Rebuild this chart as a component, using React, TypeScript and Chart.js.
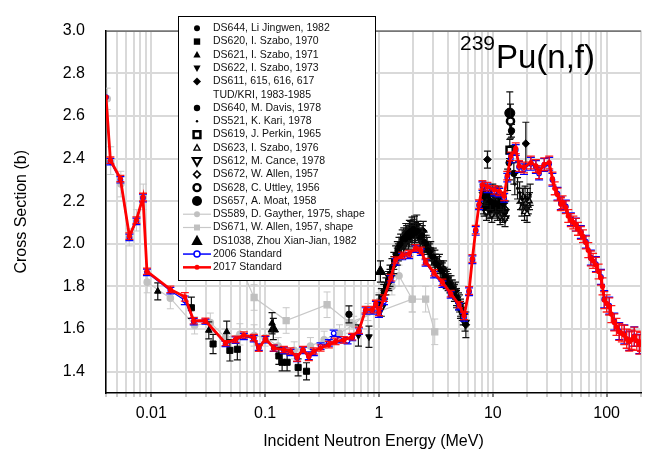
import React, { useEffect, useRef } from "react";
import { Chart, registerables } from "chart.js";

Chart.register(...registerables);

type P = [number, number, number]; // energy (MeV), cross section (b), error (b)

const FONT = '"Liberation Sans", Arial, Helvetica, sans-serif';

const xMin = 0.004;
const xMax = 200;
const yMin = 1.3;
const yMax = 3.0;
const xMajorTicks = [0.01, 0.1, 1, 10, 100];
const xDecades = [0.001, 0.01, 0.1, 1, 10, 100];
const xMultipliers = [1, 2, 3, 4, 5, 6, 7, 8, 9];
const yTickValues = [1.4, 1.6, 1.8, 2.0, 2.2, 2.4, 2.6, 2.8, 3.0];

const std2017: P[] = [
  [0.004, 2.688, 0.0], [0.00437, 2.392, 0.015], [0.00535, 2.306, 0.015], [0.00642, 2.036, 0.015],
  [0.0074, 2.111, 0.015], [0.00845, 2.219, 0.018], [0.00916, 1.871, 0.015], [0.0147, 1.786, 0.015],
  [0.0197, 1.751, 0.02], [0.0236, 1.639, 0.015], [0.0299, 1.639, 0.012], [0.0449, 1.534, 0.012],
  [0.055, 1.552, 0.015], [0.065, 1.572, 0.015], [0.0795, 1.56, 0.015], [0.088, 1.51, 0.015],
  [0.1007, 1.554, 0.015], [0.119, 1.511, 0.015], [0.146, 1.504, 0.015], [0.167, 1.497, 0.015],
  [0.191, 1.467, 0.018], [0.215, 1.504, 0.015], [0.242, 1.47, 0.018], [0.268, 1.497, 0.015],
  [0.307, 1.511, 0.015], [0.363, 1.527, 0.015], [0.416, 1.542, 0.015], [0.492, 1.549, 0.015],
  [0.582, 1.564, 0.015], [0.667, 1.594, 0.015], [0.764, 1.691, 0.015], [0.873, 1.691, 0.015],
  [0.94, 1.72, 0.015], [1.0, 1.678, 0.015], [1.107, 1.745, 0.015], [1.27, 1.841, 0.015],
  [1.4, 1.924, 0.015], [1.6, 1.946, 0.015], [1.84, 1.954, 0.015], [2.1, 1.981, 0.015],
  [2.33, 1.969, 0.015], [2.57, 1.916, 0.015], [3.05, 1.864, 0.015], [3.61, 1.819, 0.015],
  [4.27, 1.766, 0.015], [5.06, 1.714, 0.015], [5.59, 1.662, 0.018], [6.19, 1.781, 0.018],
  [6.62, 1.931, 0.018], [7.08, 2.066, 0.02], [7.58, 2.186, 0.02], [8.11, 2.276, 0.02],
  [8.97, 2.268, 0.02], [10.3, 2.253, 0.02], [11.4, 2.246, 0.02], [12.6, 2.223, 0.02],
  [13.4, 2.32, 0.02], [14.4, 2.41, 0.02], [15.9, 2.448, 0.025], [17.0, 2.365, 0.025],
  [18.8, 2.358, 0.025], [21.6, 2.381, 0.03], [23.9, 2.365, 0.03], [25.5, 2.336, 0.03],
  [28.3, 2.373, 0.03], [31.3, 2.381, 0.03], [33.4, 2.306, 0.03], [35.0, 2.26, 0.03],
  [37.0, 2.231, 0.03], [39.6, 2.186, 0.03], [41.0, 2.195, 0.03], [43.8, 2.171, 0.03],
  [46.0, 2.13, 0.03], [48.5, 2.111, 0.03], [51.0, 2.1, 0.03], [53.7, 2.089, 0.03],
  [56.0, 2.07, 0.03], [59.4, 2.051, 0.03], [62.0, 2.035, 0.03], [65.7, 2.006, 0.03],
  [69.0, 1.97, 0.035], [72.7, 1.931, 0.035], [76.0, 1.92, 0.035], [80.5, 1.901, 0.035],
  [85.0, 1.87, 0.035], [89.1, 1.841, 0.035], [92.0, 1.80, 0.04], [95.3, 1.736, 0.04],
  [100.0, 1.72, 0.04], [105.4, 1.706, 0.04], [110.0, 1.67, 0.04], [116.7, 1.631, 0.04],
  [122.0, 1.61, 0.04], [129.0, 1.587, 0.04], [136.0, 1.58, 0.04], [143.0, 1.572, 0.045],
  [150.0, 1.555, 0.045], [158.0, 1.542, 0.045], [166.0, 1.55, 0.045], [175.0, 1.564, 0.045],
  [184.0, 1.545, 0.045], [194.0, 1.527, 0.045], [200.0, 1.54, 0.045],
];

const std2006: P[] = [
  [0.004, 2.688, 0.0], [0.00437, 2.385, 0.015], [0.00535, 2.3, 0.015], [0.00642, 2.03, 0.015],
  [0.0074, 2.105, 0.015], [0.00845, 2.215, 0.018], [0.00916, 1.866, 0.015], [0.0147, 1.78, 0.015],
  [0.0197, 1.735, 0.02], [0.0236, 1.635, 0.015], [0.0299, 1.635, 0.012], [0.0449, 1.53, 0.012],
  [0.055, 1.548, 0.015], [0.065, 1.565, 0.015], [0.0795, 1.555, 0.015], [0.088, 1.515, 0.015],
  [0.1007, 1.55, 0.015], [0.119, 1.51, 0.015], [0.146, 1.5, 0.015], [0.167, 1.49, 0.015],
  [0.191, 1.465, 0.018], [0.215, 1.5, 0.015], [0.242, 1.475, 0.018], [0.268, 1.49, 0.015],
  [0.307, 1.52, 0.015], [0.363, 1.535, 0.015], [0.4, 1.58, 0.015], [0.45, 1.55, 0.015],
  [0.53, 1.545, 0.015], [0.582, 1.56, 0.015], [0.667, 1.59, 0.015], [0.764, 1.685, 0.015],
  [0.873, 1.685, 0.015], [0.94, 1.715, 0.015], [1.0, 1.67, 0.015], [1.107, 1.73, 0.015],
  [1.27, 1.835, 0.015], [1.4, 1.915, 0.015], [1.6, 1.94, 0.015], [1.84, 1.945, 0.015],
  [2.1, 1.975, 0.015], [2.33, 1.96, 0.015], [2.57, 1.91, 0.015], [3.05, 1.855, 0.015],
  [3.61, 1.81, 0.015], [4.27, 1.76, 0.015], [5.06, 1.705, 0.015], [5.59, 1.655, 0.018],
  [6.19, 1.775, 0.018], [6.62, 1.925, 0.018], [7.08, 2.06, 0.02], [7.58, 2.18, 0.02],
  [8.11, 2.27, 0.02], [8.97, 2.26, 0.02], [10.3, 2.245, 0.02], [11.4, 2.24, 0.02],
  [12.6, 2.215, 0.02], [13.4, 2.31, 0.02], [14.4, 2.4, 0.02], [15.9, 2.44, 0.025],
  [17.0, 2.36, 0.025], [18.8, 2.35, 0.025], [21.6, 2.375, 0.03], [23.9, 2.36, 0.03],
  [25.5, 2.33, 0.03], [28.3, 2.37, 0.03], [31.3, 2.375, 0.03], [33.4, 2.3, 0.03],
  [37.0, 2.235, 0.03], [39.6, 2.19, 0.03], [43.8, 2.175, 0.03], [48.5, 2.115, 0.03],
  [53.7, 2.09, 0.03], [59.4, 2.055, 0.03], [65.7, 2.01, 0.03], [72.7, 1.935, 0.035],
  [80.5, 1.905, 0.035], [89.1, 1.845, 0.035], [95.3, 1.74, 0.04], [105.4, 1.71, 0.04],
  [116.7, 1.635, 0.04], [129.0, 1.59, 0.04], [143.0, 1.575, 0.045], [158.0, 1.545, 0.045],
  [175.0, 1.565, 0.045], [194.0, 1.53, 0.045],
];

const ds644: P[] = [
  [1.0, 1.72, 0.04], [1.05, 1.75, 0.04], [1.1, 1.77, 0.04], [1.15, 1.8, 0.04], [1.2, 1.83, 0.04],
  [1.25, 1.86, 0.04], [1.3, 1.89, 0.04], [1.35, 1.92, 0.04], [1.4, 1.95, 0.04], [1.45, 1.97, 0.04],
  [1.5, 1.99, 0.04], [1.55, 2.0, 0.045], [1.6, 2.02, 0.045], [1.65, 2.03, 0.045], [1.7, 2.02, 0.045],
  [1.75, 2.04, 0.045], [1.8, 2.05, 0.045], [1.85, 2.03, 0.045], [1.9, 2.06, 0.045], [1.95, 2.04, 0.045],
  [2.0, 2.07, 0.045], [2.1, 2.05, 0.045], [2.2, 2.06, 0.045], [2.3, 2.03, 0.045], [2.4, 2.04, 0.045],
  [2.5, 2.01, 0.045], [2.6, 2.0, 0.04], [2.7, 1.97, 0.04], [2.8, 1.96, 0.04], [2.9, 1.94, 0.04],
  [3.0, 1.94, 0.04], [3.15, 1.91, 0.04], [3.3, 1.9, 0.04], [3.45, 1.88, 0.04], [3.6, 1.87, 0.04],
  [3.75, 1.85, 0.04], [3.9, 1.84, 0.04], [4.05, 1.82, 0.04], [4.2, 1.81, 0.04], [4.4, 1.79, 0.04],
  [4.6, 1.77, 0.04], [4.8, 1.75, 0.04], [5.0, 1.73, 0.04], [5.2, 1.7, 0.04], [5.4, 1.68, 0.04],
];
const ds620: P[] = [
  [0.0225, 1.7, 0.05], [0.0349, 1.53, 0.045], [0.049, 1.5, 0.05], [0.057, 1.505, 0.05],
  [0.132, 1.474, 0.04], [0.141, 1.444, 0.04], [0.156, 1.444, 0.04], [0.195, 1.42, 0.04], [0.231, 1.402, 0.04],
];
const ds621: P[] = [
  [0.0114, 1.777, 0.04], [0.032, 1.594, 0.04], [0.046, 1.587, 0.05], [0.115, 1.627, 0.05],
];
const ds622: P[] = [[0.66, 1.57, 0.05], [0.817, 1.564, 0.05]];
const ds611: P[] = [
  [1.12, 1.78, 0.04], [1.22, 1.82, 0.04], [1.35, 1.9, 0.04], [1.48, 1.96, 0.04], [1.58, 1.99, 0.04],
  [1.72, 2.05, 0.045], [1.82, 2.02, 0.045], [1.95, 2.08, 0.045], [2.05, 2.04, 0.045], [2.15, 2.09, 0.045],
  [2.25, 2.05, 0.045], [2.45, 2.06, 0.045], [2.65, 1.99, 0.04], [2.85, 1.97, 0.04], [3.1, 1.93, 0.04],
  [3.4, 1.91, 0.04], [3.7, 1.88, 0.04], [4.0, 1.84, 0.04], [4.3, 1.81, 0.04], [4.7, 1.78, 0.04],
  [5.1, 1.72, 0.04], [5.5, 1.67, 0.05], [5.8, 1.62, 0.06],
  [8.2, 2.24, 0.04], [8.5, 2.22, 0.04], [8.97, 2.395, 0.04], [9.1, 2.23, 0.04], [9.5, 2.2, 0.04],
  [10.0, 2.24, 0.04], [10.6, 2.19, 0.04], [11.2, 2.23, 0.04], [11.8, 2.2, 0.04], [12.4, 2.19, 0.04],
  [19.5, 2.47, 0.1],
];
const ds640: P[] = [
  [0.545, 1.669, 0.04], [8.4, 2.17, 0.04], [9.0, 2.18, 0.04], [9.6, 2.16, 0.04], [10.3, 2.18, 0.04],
  [10.9, 2.16, 0.04], [11.5, 2.17, 0.04], [12.1, 2.16, 0.04], [12.7, 2.15, 0.04],
  [13.9, 2.38, 0.04], [14.6, 2.53, 0.03], [15.3, 2.33, 0.05],
];
const ds521: P[] = [
  [13.5, 2.3, 0.05], [14.0, 2.35, 0.05], [14.8, 2.42, 0.04], [15.6, 2.28, 0.05], [16.5, 2.26, 0.05],
  [17.2, 2.24, 0.05], [18.2, 2.21, 0.05], [19.2, 2.22, 0.05], [20.2, 2.21, 0.05], [21.3, 2.23, 0.05],
];
const ds619: P[] = [[14.1, 2.44, 0.05]];
const ds623: P[] = [
  [17.5, 2.2, 0.04], [18.0, 2.17, 0.04], [18.5, 2.22, 0.04], [19.0, 2.15, 0.04],
  [19.5, 2.19, 0.04], [20.0, 2.14, 0.04], [20.5, 2.18, 0.04], [21.0, 2.2, 0.04],
];
const ds612: P[] = [
  [1.05, 1.7, 0.04], [1.25, 1.84, 0.04], [1.45, 1.94, 0.04], [1.65, 1.99, 0.04], [1.85, 2.06, 0.05],
  [2.05, 2.08, 0.05], [2.3, 2.02, 0.05], [2.5, 2.0, 0.04], [2.75, 1.97, 0.04], [3.1, 1.91, 0.04],
  [3.5, 1.88, 0.04], [3.9, 1.83, 0.04], [4.4, 1.79, 0.04], [4.8, 1.74, 0.04], [5.2, 1.69, 0.04],
  [5.7, 1.63, 0.04], [8.3, 2.18, 0.04], [8.8, 2.15, 0.04], [9.3, 2.16, 0.04], [9.8, 2.14, 0.04],
  [10.4, 2.17, 0.04], [11.0, 2.15, 0.04], [11.6, 2.13, 0.04], [12.2, 2.14, 0.04], [12.8, 2.12, 0.04],
];
const ds672: P[] = [
  [8.2, 2.2, 0.04], [8.7, 2.21, 0.04], [9.2, 2.2, 0.04], [9.7, 2.21, 0.04], [10.2, 2.19, 0.04],
  [10.8, 2.2, 0.04], [11.3, 2.19, 0.04], [11.9, 2.18, 0.04], [12.4, 2.17, 0.04], [13.0, 2.16, 0.04],
];
const ds628: P[] = [[14.3, 2.575, 0.08]];
const ds657: P[] = [[14.1, 2.613, 0.1]];
const ds589: P[] = [
  [0.0041, 2.68, 0.05], [0.0044, 2.39, 0.065], [0.0054, 2.28, 0.06], [0.0064, 2.03, 0.04],
  [0.0074, 2.11, 0.05], [0.0085, 2.22, 0.06], [0.0092, 1.82, 0.05], [0.0147, 1.745, 0.05],
  [0.024, 1.617, 0.04], [0.033, 1.63, 0.045], [0.045, 1.56, 0.04], [0.06, 1.575, 0.05],
  [0.08, 1.57, 0.05], [0.1, 1.56, 0.04], [0.13, 1.52, 0.04], [0.18, 1.5, 0.04], [0.25, 1.52, 0.04],
  [0.33, 1.55, 0.04], [0.45, 1.58, 0.04], [0.6, 1.62, 0.04], [0.8, 1.68, 0.04], [1.0, 1.73, 0.04],
  [1.3, 1.8, 0.04], [1.5, 1.85, 0.05], [1.96, 1.74, 0.06],
];
const ds671: P[] = [
  [0.06, 1.9, 0.07], [0.08, 1.748, 0.06], [0.153, 1.64, 0.06], [0.35, 1.714, 0.06],
  [0.55, 1.63, 0.05], [1.96, 1.74, 0.06], [2.57, 1.74, 0.06], [3.09, 1.587, 0.06],
];
const ds1038: P[] = [[0.118, 1.6, 0.05], [1.03, 1.87, 0.05]];

type Sym = { kind: string; r: number; fill: string | null; stroke: string | null; lw: number; line?: string; lineW?: number };

const legendEntries: { text: string[]; sym: Sym }[] = [
  { text: ["DS644, Li Jingwen, 1982"], sym: { kind: "circle", r: 3, fill: "#000", stroke: null, lw: 0 } },
  { text: ["DS620, I. Szabo, 1970"], sym: { kind: "square", r: 3.2, fill: "#000", stroke: null, lw: 0 } },
  { text: ["DS621, I. Szabo, 1971"], sym: { kind: "tri", r: 3.8, fill: "#000", stroke: null, lw: 0 } },
  { text: ["DS622, I. Szabo, 1973"], sym: { kind: "triDown", r: 3.8, fill: "#000", stroke: null, lw: 0 } },
  { text: ["DS611, 615, 616, 617", "TUD/KRI, 1983-1985"], sym: { kind: "diamond", r: 4, fill: "#000", stroke: null, lw: 0 } },
  { text: ["DS640, M. Davis, 1978"], sym: { kind: "circle", r: 3.2, fill: "#000", stroke: null, lw: 0 } },
  { text: ["DS521, K. Kari, 1978"], sym: { kind: "circle", r: 1.2, fill: "#000", stroke: null, lw: 0 } },
  { text: ["DS619, J. Perkin, 1965"], sym: { kind: "square", r: 3.4, fill: "#fff", stroke: "#000", lw: 2.5 } },
  { text: ["DS623, I. Szabo, 1976"], sym: { kind: "tri", r: 3.2, fill: "#fff", stroke: "#000", lw: 1.3 } },
  { text: ["DS612, M. Cance, 1978"], sym: { kind: "triDown", r: 4.6, fill: "#fff", stroke: "#000", lw: 2 } },
  { text: ["DS672, W. Allen, 1957"], sym: { kind: "diamond", r: 3.4, fill: "#fff", stroke: "#000", lw: 1.6 } },
  { text: ["DS628, C. Uttley, 1956"], sym: { kind: "circle", r: 3.5, fill: "#fff", stroke: "#000", lw: 2.4 } },
  { text: ["DS657, A. Moat, 1958"], sym: { kind: "circle", r: 5, fill: "#000", stroke: null, lw: 0 } },
  { text: ["DS589, D. Gayther, 1975, shape"], sym: { kind: "circle", r: 3, fill: "#c0c0c0", stroke: null, lw: 0, line: "#c8c8c8", lineW: 1.2 } },
  { text: ["DS671, W. Allen, 1957, shape"], sym: { kind: "square", r: 3, fill: "#c0c0c0", stroke: null, lw: 0, line: "#c8c8c8", lineW: 1.2 } },
  { text: ["DS1038, Zhou Xian-Jian, 1982"], sym: { kind: "tri", r: 6, fill: "#000", stroke: null, lw: 0 } },
  { text: ["2006 Standard"], sym: { kind: "circle", r: 3, fill: "#fff", stroke: "#0000ff", lw: 1.5, line: "#0000ff", lineW: 1.5 } },
  { text: ["2017 Standard"], sym: { kind: "circle", r: 2.5, fill: "#ff0000", stroke: null, lw: 0, line: "#ff0000", lineW: 2.5 } },
];

function drawSym(ctx: CanvasRenderingContext2D, s: Sym, x: number, y: number) {
  ctx.save();
  if (s.line) {
    ctx.strokeStyle = s.line;
    ctx.lineWidth = s.lineW || 1;
    ctx.beginPath();
    ctx.moveTo(x - 14, y);
    ctx.lineTo(x + 14, y);
    ctx.stroke();
  }
  ctx.beginPath();
  const r = s.r;
  if (s.kind === "circle") ctx.arc(x, y, r, 0, Math.PI * 2);
  else if (s.kind === "square") ctx.rect(x - r, y - r, 2 * r, 2 * r);
  else if (s.kind === "tri") {
    ctx.moveTo(x, y - r);
    ctx.lineTo(x + r * 0.95, y + r * 0.7);
    ctx.lineTo(x - r * 0.95, y + r * 0.7);
    ctx.closePath();
  } else if (s.kind === "triDown") {
    ctx.moveTo(x, y + r);
    ctx.lineTo(x + r * 0.95, y - r * 0.7);
    ctx.lineTo(x - r * 0.95, y - r * 0.7);
    ctx.closePath();
  } else if (s.kind === "diamond") {
    ctx.moveTo(x, y - r);
    ctx.lineTo(x + r, y);
    ctx.lineTo(x, y + r);
    ctx.lineTo(x - r, y);
    ctx.closePath();
  }
  if (s.fill) {
    ctx.fillStyle = s.fill;
    ctx.fill();
  }
  if (s.stroke) {
    ctx.strokeStyle = s.stroke;
    ctx.lineWidth = s.lw;
    ctx.stroke();
  }
  ctx.restore();
}

const errorBarPlugin = {
  id: "errorBars",
  beforeDatasetDraw(chart: any, args: any) {
    const ds = chart.data.datasets[args.index];
    if (!ds.errs) return;
    const ctx: CanvasRenderingContext2D = chart.ctx;
    const ys = chart.scales.y;
    const area = chart.chartArea;
    ctx.save();
    ctx.beginPath();
    ctx.rect(area.left, area.top, area.right - area.left, area.bottom - area.top);
    ctx.clip();
    ctx.strokeStyle = ds.errColor;
    ctx.lineWidth = ds.errWidth || 1;
    ctx.beginPath();
    const c = (ds.capW || 6) / 2;
    args.meta.data.forEach((el: any, i: number) => {
      const e = ds.errs[i];
      if (!e) return;
      const v = ds.data[i].y;
      const x = el.x;
      const y1 = ys.getPixelForValue(v - e);
      const y2 = ys.getPixelForValue(v + e);
      ctx.moveTo(x, y1);
      ctx.lineTo(x, y2);
      ctx.moveTo(x - c, y1);
      ctx.lineTo(x + c, y1);
      ctx.moveTo(x - c, y2);
      ctx.lineTo(x + c, y2);
    });
    ctx.stroke();
    ctx.restore();
  },
};

const overlayPlugin = {
  id: "overlay",
  afterDraw(chart: any) {
    const ctx: CanvasRenderingContext2D = chart.ctx;
    const a = chart.chartArea;
    ctx.save();
    ctx.strokeStyle = "#333";
    ctx.lineWidth = 1;
    ctx.beginPath();
    ctx.moveTo(a.left, a.top + 0.5);
    ctx.lineTo(a.right, a.top + 0.5);
    ctx.stroke();
    ctx.fillStyle = "#000";
    ctx.textBaseline = "alphabetic";
    ctx.textAlign = "left";
    ctx.font = `21px ${FONT}`;
    ctx.fillText("239", 460, 50);
    ctx.font = `33px ${FONT}`;
    ctx.fillText("Pu(n,f)", 496, 68);
    const lx = 178.5, ly = 16.5, lw = 197, lh = 264;
    ctx.fillStyle = "#fff";
    ctx.fillRect(lx, ly, lw, lh);
    ctx.strokeStyle = "#000";
    ctx.lineWidth = 1;
    ctx.strokeRect(lx, ly, lw, lh);
    ctx.font = `10.5px ${FONT}`;
    ctx.textBaseline = "middle";
    let row = 0;
    legendEntries.forEach((en) => {
      const y = 28.3 + row * 13.28;
      drawSym(ctx, en.sym, 197, y);
      ctx.fillStyle = "#111";
      en.text.forEach((t, k) => {
        ctx.fillText(t, 213, 28.3 + (row + k) * 13.28);
      });
      row += en.text.length;
    });
    ctx.restore();
  },
};

function mk(label: string, pts: P[], o: any) {
  return {
    label,
    data: pts.map((p) => ({ x: p[0], y: p[1] })),
    errs: pts.map((p) => p[2]),
    showLine: false,
    ...o,
  };
}

const blk = (o: any) => ({
  errColor: "#111",
  capW: 7,
  errWidth: 1.2,
  pointBackgroundColor: "#000",
  pointBorderColor: "#000",
  pointBorderWidth: 1,
  order: 2,
  ...o,
});

export default function App() {
  const ref = useRef<HTMLCanvasElement | null>(null);
  useEffect(() => {
    if (!ref.current) return;
    const datasets: any[] = [
      mk("2017 Standard", std2017, {
        showLine: true, borderColor: "#ff0000", borderWidth: 2.8, pointRadius: 2.6,
        pointBackgroundColor: "#ff0000", pointBorderColor: "#ff0000", pointBorderWidth: 0,
        errColor: "rgba(255,0,0,0.9)", capW: 8, errWidth: 1.3, order: 0,
      }),
      mk("2006 Standard", std2006, {
        showLine: true, borderColor: "#0000ff", borderWidth: 1.2, pointRadius: 2.3,
        pointBackgroundColor: "#fff", pointBorderColor: "#0000ff", pointBorderWidth: 1.2,
        errColor: "#0000ff", capW: 8, errWidth: 1.2, order: 1,
      }),
      mk("DS644", ds644, blk({ pointStyle: "circle", pointRadius: 2.5 })),
      mk("DS620", ds620, blk({ pointStyle: "rect", pointRadius: 4.3 })),
      mk("DS621", ds621, blk({ pointStyle: "triangle", pointRadius: 3.8 })),
      mk("DS622", ds622, blk({ pointStyle: "triangle", pointRotation: 180, pointRadius: 3.8 })),
      mk("DS611", ds611, blk({ pointStyle: "rectRot", pointRadius: 3.8 })),
      mk("DS640", ds640, blk({ pointStyle: "circle", pointRadius: 3.2 })),
      mk("DS521", ds521, blk({ pointStyle: "circle", pointRadius: 1.2 })),
      mk("DS619", ds619, blk({ pointStyle: "rect", pointRadius: 4.6, pointBackgroundColor: "#fff", pointBorderWidth: 2.5 })),
      mk("DS623", ds623, blk({ pointStyle: "triangle", pointRadius: 3.2, pointBackgroundColor: "#fff", pointBorderWidth: 1.3 })),
      mk("DS612", ds612, blk({ pointStyle: "triangle", pointRotation: 180, pointRadius: 4.2, pointBackgroundColor: "#fff", pointBorderWidth: 1.8 })),
      mk("DS672", ds672, blk({ pointStyle: "rectRot", pointRadius: 3.2, pointBackgroundColor: "#fff", pointBorderWidth: 1.5 })),
      mk("DS628", ds628, blk({ pointStyle: "circle", pointRadius: 3.6, pointBackgroundColor: "#fff", pointBorderWidth: 2.4 })),
      mk("DS657", ds657, blk({ pointStyle: "circle", pointRadius: 5 })),
      mk("DS1038", ds1038, blk({ pointStyle: "triangle", pointRadius: 6 })),
      mk("DS589", ds589, {
        showLine: true, borderColor: "#c8c8c8", borderWidth: 1.2, pointStyle: "circle", pointRadius: 3.2,
        pointBackgroundColor: "#c0c0c0", pointBorderColor: "#c0c0c0", errColor: "#c8c8c8", capW: 7, errWidth: 1, order: 3,
      }),
      mk("DS671", ds671, {
        showLine: true, borderColor: "#c8c8c8", borderWidth: 1.2, pointStyle: "rect", pointRadius: 4.3,
        pointBackgroundColor: "#c0c0c0", pointBorderColor: "#c0c0c0", errColor: "#c8c8c8", capW: 7, errWidth: 1, order: 3,
      }),
    ];

    const xTicks: number[] = [];
    xDecades.forEach((d) => xMultipliers.forEach((m) => {
      const v = +(m * d).toPrecision(3);
      if (v >= xMin && v <= xMax) xTicks.push(v);
    }));

    const chart = new Chart(ref.current, {
      type: "scatter",
      data: { datasets },
      options: {
        animation: false,
        responsive: false,
        devicePixelRatio: 1,
        layout: { padding: { left: 0, right: 6, top: 16, bottom: 0 } },
        plugins: { legend: { display: false }, tooltip: { enabled: false } },
        elements: { line: { tension: 0 } },
        scales: {
          x: {
            type: "logarithmic",
            min: xMin,
            max: xMax,
            afterBuildTicks: (s: any) => {
              s.ticks = xTicks.map((v) => ({ value: v, major: xMajorTicks.includes(v) }));
            },
            afterFit: (s: any) => { s.height = 63; },
            ticks: {
              autoSkip: false,
              maxRotation: 0,
              minRotation: 0,
              padding: 7,
              color: "#000",
              font: { size: 16, family: FONT },
              callback: (v: any) => (xMajorTicks.includes(Number(v)) ? String(Number(v)) : ""),
            },
            grid: {
              color: "#d9d9d9",
              lineWidth: 2,
              drawTicks: true,
              tickLength: 4,
              tickWidth: 1,
              tickColor: (c: any) => (c.tick && xMajorTicks.includes(c.tick.value) ? "#000" : "#999"),
            },
            border: { display: true, color: "#000", width: 1.5 },
            title: {
              display: true,
              text: "Incident Neutron Energy (MeV)",
              color: "#000",
              font: { size: 16, family: FONT },
              padding: { top: 0, bottom: 5 },
            },
          },
          y: {
            type: "linear",
            min: yMin,
            max: yMax,
            afterBuildTicks: (s: any) => {
              s.ticks = yTickValues.map((v) => ({ value: v }));
            },
            afterFit: (s: any) => { s.width = 106; },
            ticks: {
              padding: 21,
              color: "#000",
              font: { size: 16, family: FONT },
              callback: (v: any) => Number(v).toFixed(1),
            },
            grid: { color: "#d9d9d9", lineWidth: 2, drawTicks: false },
            border: { display: true, color: "#000", width: 1.5 },
            title: {
              display: true,
              text: "Cross Section (b)",
              color: "#000",
              font: { size: 16, family: FONT },
              padding: { top: 12, bottom: 0 },
            },
          },
        },
      },
      plugins: [errorBarPlugin, overlayPlugin],
    } as any);
    return () => chart.destroy();
  }, []);

  return (
    <div style={{ position: "fixed", left: 0, top: 0, width: 648, height: 456, background: "#fff" }}>
      <canvas ref={ref} width={648} height={456} style={{ display: "block", width: 648, height: 456 }} />
    </div>
  );
}
